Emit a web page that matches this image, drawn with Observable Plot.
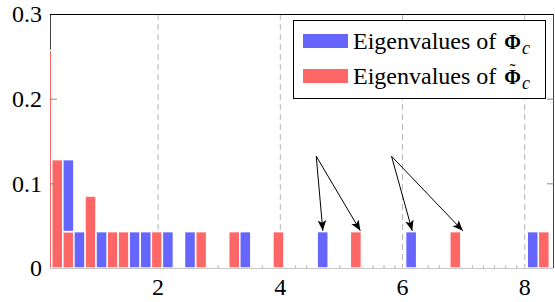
<!DOCTYPE html>
<html><head><meta charset="utf-8">
<script src="https://cdn.jsdelivr.net/npm/d3@7"></script>
<script src="https://cdn.jsdelivr.net/npm/@observablehq/plot@0.6"></script>
<style>
body{margin:0;background:#fff}
#wrap{position:relative;width:555px;height:302px;overflow:hidden;font-family:'Liberation Serif',serif}
#wrap svg text{font-family:'Liberation Serif',serif}
#legend{position:absolute;left:293px;top:20px;width:251px;height:77px;border:1px solid #000;background:#fff}
.row{position:absolute;left:0;height:24px;font-size:24px;line-height:24px;white-space:nowrap;color:#000}
.sw{position:absolute;width:45px;height:14px}
.lt{position:absolute;left:59px;top:0}
.sub{font-style:italic;font-size:18px;position:relative;top:5px;margin-left:1px}
.phi{font-weight:bold;position:relative;display:inline-block;font-size:20px;margin-left:2px}
.til{position:absolute;left:0;right:0;top:-3px;text-align:center;font-weight:normal;font-size:18px;line-height:18px}
</style></head><body><div id="wrap"></div>
<script>
// histogram bin edges (x)
const binEdges = [0.087,0.268,0.449,0.630,0.811,0.992,1.173,1.354,1.535,1.716,1.897,2.078,2.259,2.440,2.621,2.802,2.983,3.164,3.345,3.526,3.707,3.887,4.068,4.249,4.430,4.611,4.792,4.973,5.154,5.335,5.516,5.697,5.878,6.059,6.240,6.421,6.601,6.782,6.963,7.144,7.325,7.506,7.687,7.868,8.049,8.230,8.411,8.592];
// Eigenvalues of Phi_c (blue)
const blueValues = [0,0,0.085,0.043,0,0.043,0,0,0.043,0.043,
  0,0.043,0,0.043,0,0,0,0,0.043,0,
  0,0,0,0,0,0.043,0,0,0,0,
  0,0,0,0.043,0,0,0,0,0,0,
  0,0,0,0,0.043,0,0];
// Eigenvalues of tilde Phi_c (red)
const redValues = [0.257,0.128,0.043,0,0.085,0,0.043,0.043,0,0,
  0.043,0,0,0,0.043,0,0,0.043,0,0,
  0,0.043,0,0,0,0,0,0,0.043,0,
  0,0,0,0,0,0,0,0.043,0,0,
  0,0,0,0,0,0.043,0];
const xDomain = [0.239, 8.471];
const yDomain = [0, 0.3];
const xTicks = [2, 4, 6, 8];
const xTickLabels = ["2", "4", "6", "8"];
const yTicks = [0, 0.1, 0.2, 0.3];
const yTickLabels = ["0", "0.1", "0.2", "0.3"];
// annotation arrows
const arrowFromX = [4.588, 4.588, 5.82, 5.82];
const arrowFromY = [0.1326, 0.1326, 0.1326, 0.1326];
const arrowToX = [4.696, 5.31, 6.159, 6.987];
const arrowToY = [0.0445, 0.0445, 0.0445, 0.0445];
const seriesLabel = "Eigenvalues of";
const seriesSymbol = "Φ";
const seriesAccents = ["", "˜"];
const seriesSub = "c";
const seriesColors = ["#6666ff", "#ff6666"];

const bars = [];
redValues.forEach((v, i) => { if (v > 0) bars.push({x1: binEdges[i], x2: binEdges[i+1], y1: 0, y2: v, s: "red"}); });
blueValues.forEach((v, i) => { if (v > 0) bars.push({x1: binEdges[i], x2: binEdges[i+1], y1: redValues[i], y2: redValues[i] + v, s: "blue"}); });
const emptyEdges = [];
blueValues.forEach((v, i) => { if (v === 0 && redValues[i] === 0) { emptyEdges.push(binEdges[i], binEdges[i+1]); } });
const arrows = arrowFromX.map((d, i) => ({x1: d, y1: arrowFromY[i], x2: arrowToX[i], y2: arrowToY[i]}));

const chart = Plot.plot({
  width: 555, height: 302,
  marginLeft: 50, marginRight: 2, marginTop: 14, marginBottom: 34,
  style: {fontFamily: "'Liberation Serif', serif", fontSize: "24px", background: "white", color: "black"},
  x: {domain: xDomain},
  y: {domain: yDomain},
  marks: [
    Plot.ruleX(xTicks, {stroke: "#b8b8b8", strokeDasharray: "6,4"}),
    Plot.ruleX(emptyEdges, {y1: 0, y2: 0.003, stroke: "#c0c0c0"}),
    Plot.ruleX([xDomain[0]], {stroke: "#444"}),
    Plot.ruleX([xDomain[1]], {stroke: "#444"}),
    Plot.ruleY([yDomain[1]], {stroke: "black"}),
    Plot.rect(bars, {x1: "x1", x2: "x2", y1: "y1", y2: "y2", fill: d => d.s === "red" ? seriesColors[1] : seriesColors[0], stroke: "white", strokeWidth: 1.5, clip: true}),
    Plot.ruleY([0], {stroke: "#c8c8c8"}),
    Plot.axisY({anchor: "left", ticks: yTicks, tickSize: 0, tickPadding: 8.5, tickFormat: (d, i) => yTickLabels[i], label: null}),
    Plot.axisY({anchor: "left", ticks: [0.1, 0.2], tickSize: -7, fill: "none", stroke: "#888", label: null}),
    Plot.axisY({anchor: "right", ticks: [0.1, 0.2], tickSize: -7, fill: "none", stroke: "#888", label: null}),
    Plot.axisX({anchor: "bottom", ticks: xTicks, tickSize: 0, tickPadding: 9, tickFormat: (d, i) => xTickLabels[i], label: null}),
    Plot.link(arrows, {x1: "x1", y1: "y1", x2: "x2", y2: "y2", stroke: "black", strokeWidth: 1})
  ]
});

// filled arrowheads on links
const ns = "http://www.w3.org/2000/svg";
const defs = document.createElementNS(ns, "defs");
const marker = document.createElementNS(ns, "marker");
marker.setAttribute("id", "ahead");
marker.setAttribute("markerUnits", "userSpaceOnUse");
marker.setAttribute("markerWidth", "11");
marker.setAttribute("markerHeight", "9");
marker.setAttribute("refX", "10.5");
marker.setAttribute("refY", "4.25");
marker.setAttribute("orient", "auto");
const mp = document.createElementNS(ns, "path");
mp.setAttribute("d", "M0,0 L10.5,4.25 L0,8.5 L2.5,4.25 Z");
mp.setAttribute("fill", "black");
marker.appendChild(mp);
defs.appendChild(marker);
chart.insertBefore(defs, chart.firstChild);
chart.querySelectorAll('g[aria-label="link"] path').forEach(p => p.setAttribute("marker-end", "url(#ahead)"));

const wrap = document.getElementById("wrap");
wrap.appendChild(chart);

const legend = document.createElement("div");
legend.id = "legend";
legend.innerHTML = seriesColors.map((c, i) =>
  `<div class="row" style="top:${8 + 35 * i}px;width:100%"><div class="sw" style="left:9px;top:5px;background:${c}"></div>` +
  `<div class="lt">${seriesLabel} <span class="phi">${seriesSymbol}${seriesAccents[i] ? `<span class="til">${seriesAccents[i]}</span>` : ""}</span><span class="sub">${seriesSub}</span></div></div>`
).join("");
wrap.appendChild(legend);
</script></body></html>
